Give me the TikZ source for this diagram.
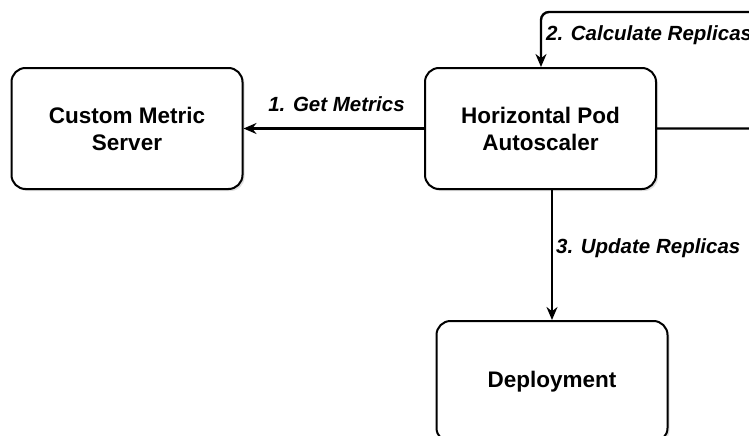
\documentclass[tikz,border=0pt]{standalone}
\usepackage{fontspec}
\setmainfont{Liberation Sans}
\usetikzlibrary{arrows.meta,shadows}
\begin{document}
\begin{tikzpicture}[x=1pt,y=-1pt,
  box/.style={draw=black,line width=2pt,rounded corners=14pt,fill=white,
    minimum width=231pt,minimum height=121pt,align=center,inner sep=0pt,
    font=\fontsize{22.5}{27}\selectfont\bfseries,
    drop shadow={opacity=0.25,shadow xshift=2pt,shadow yshift=-2pt}},
  link/.style={draw=black,line width=2.4pt,-{Stealth[length=13pt,width=11pt]}},
  lbl/.style={font=\fontsize{20.5}{24}\selectfont\bfseries\itshape,inner sep=0pt}]
\useasboundingbox (0,0) rectangle (749,436);

\node[box] (cms) at (127,128.5) {Custom Metric\\Server};
\node[box] (hpa) at (540.5,128.5) {Horizontal Pod\\Autoscaler};
\node[box] (dep) at (552,381.5) {Deployment};

% reconciliation loop leaving the picture on the right
\coordinate (loopR) at (762,128.5);
\coordinate (loopTR) at (762,12);
\coordinate (loopTL) at (541,12);
\draw[link,rounded corners=8pt] (hpa.east) -- (loopR) -- (loopTR) -- (loopTL) -- (loopTL |- hpa.north);
\node[lbl,anchor=west] (calc) at (546,35) {2. Calculate Replicas};

\draw[link] (hpa.west) -- (cms.east);
\node[lbl] (get) at (336.5,104) {1. Get Metrics};

\draw[link] (dep.north |- hpa.south) -- (dep.north);
\node[lbl,anchor=west] (upd) at (556,248) {3. Update Replicas};
\end{tikzpicture}
\end{document}
